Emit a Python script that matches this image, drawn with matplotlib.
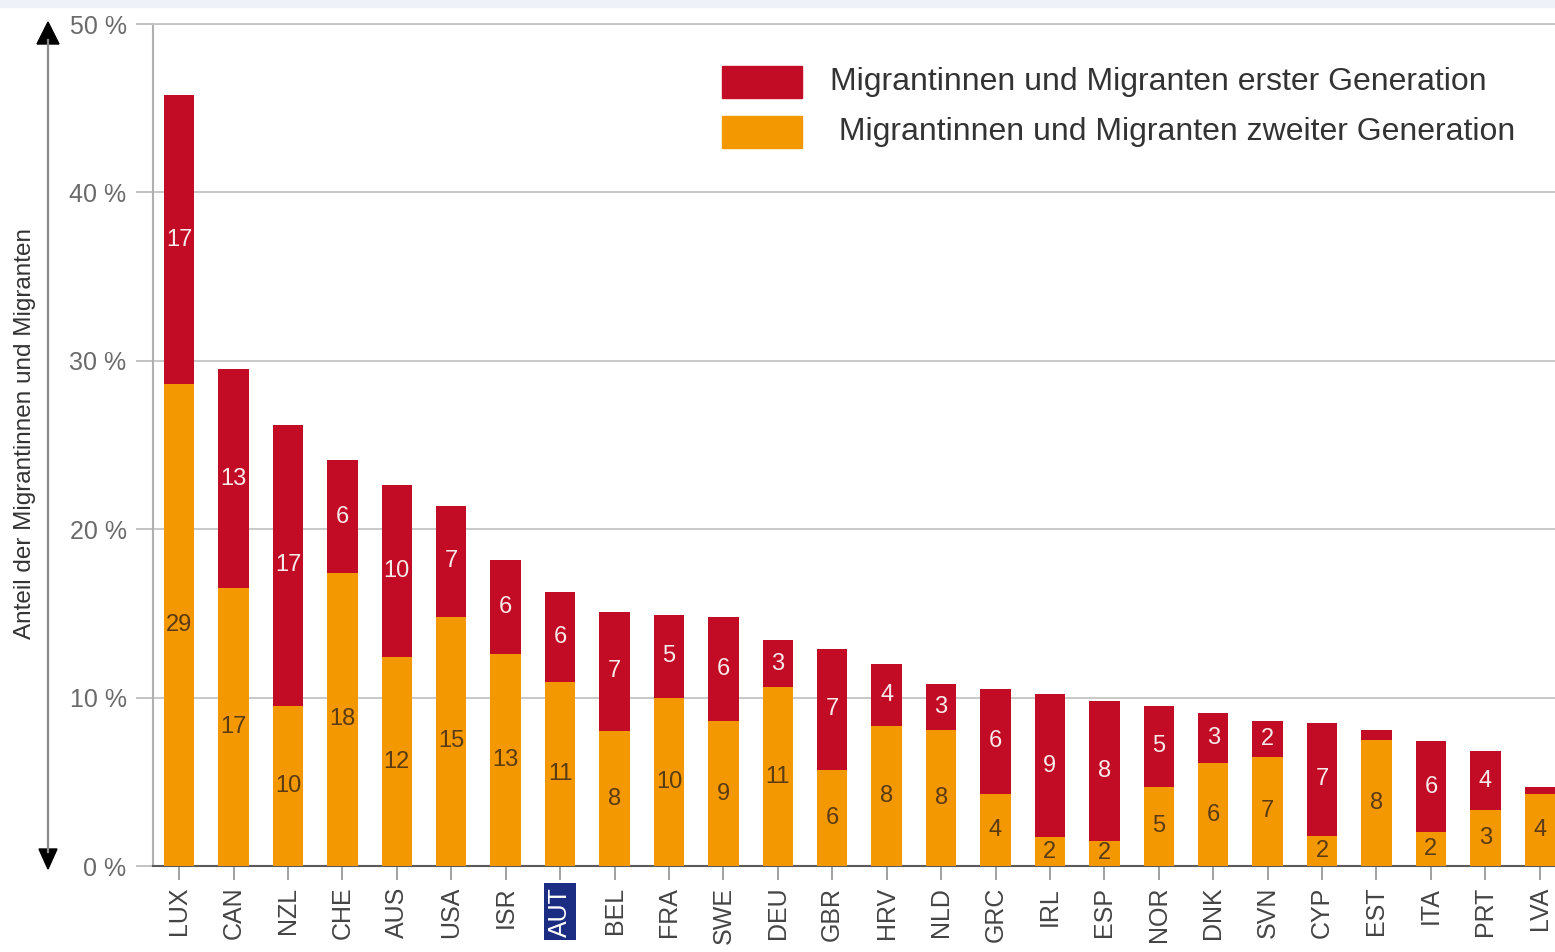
import matplotlib
matplotlib.use("Agg")
import matplotlib.pyplot as plt
from matplotlib.patches import Rectangle, Polygon
from matplotlib.lines import Line2D
import numpy as np

plt.rcParams['font.family'] = ['Liberation Sans', 'DejaVu Sans']

countries = ["LUX", "CAN", "NZL", "CHE", "AUS", "USA", "ISR", "AUT", "BEL", "FRA",
             "SWE", "DEU", "GBR", "HRV", "NLD", "GRC", "IRL", "ESP", "NOR", "DNK",
             "SVN", "CYP", "EST", "ITA", "PRT", "LVA"]
second_gen = [28.6, 16.5, 9.5, 17.4, 12.4, 14.8, 12.6, 10.9, 8.0, 10.0,
              8.6, 10.6, 5.7, 8.3, 8.1, 4.3, 1.7, 1.5, 4.7, 6.1,
              6.5, 1.8, 7.5, 2.0, 3.3, 4.3]
first_gen = [17.2, 13.0, 16.7, 6.7, 10.2, 6.6, 5.6, 5.4, 7.1, 4.9,
             6.2, 2.8, 7.2, 3.7, 2.7, 6.2, 8.5, 8.3, 4.8, 3.0,
             2.1, 6.7, 0.6, 5.4, 3.5, 0.4]
second_labels = ["29", "17", "10", "18", "12", "15", "13", "11", "8", "10",
                 "9", "11", "6", "8", "8", "4", "2", "2", "5", "6",
                 "7", "2", "8", "2", "3", "4"]
first_labels = ["17", "13", "17", "6", "10", "7", "6", "6", "7", "5",
                "6", "3", "7", "4", "3", "6", "9", "8", "5", "3",
                "2", "7", "", "6", "4", ""]
yticks = [0, 10, 20, 30, 40, 50]
ytick_labels = ["0 %", "10 %", "20 %", "30 %", "40 %", "50 %"]
legend_labels = ["Migrantinnen und Migranten erster Generation",
                 " Migrantinnen und Migranten zweiter Generation"]
ylabel = "Anteil der Migrantinnen und Migranten"
highlight = "AUT"

RED = "#c20b25"
ORANGE = "#f39800"

W, H = 1555, 952
fig = plt.figure(figsize=(W / 100, H / 100), dpi=100)
ax = fig.add_axes([153 / W, (H - 866) / H, 1 - 153 / W, (866 - 24) / H])

x = np.arange(len(countries))
sec = np.array(second_gen)
fst = np.array(first_gen)
ax.bar(x, sec, width=0.56, color=ORANGE, zorder=3)
ax.bar(x, fst, width=0.56, bottom=sec, color=RED, zorder=3)

for i in range(len(countries)):
    if second_labels[i]:
        ax.text(x[i], sec[i] / 2, second_labels[i], ha="center", va="center",
                fontsize=17, color="#5a3b12", zorder=4)
    if first_labels[i]:
        ax.text(x[i], sec[i] + fst[i] / 2, first_labels[i], ha="center", va="center",
                fontsize=17, color="#f7eaea", zorder=4)

ax.set_xlim(-0.48, len(countries) - 1 + 0.28)
ax.set_ylim(0, 50)
ax.set_yticks(yticks)
ax.set_yticklabels(ytick_labels, fontsize=18, color="#6a6a6a")
ax.set_xticks(x)
ax.set_xticklabels(countries, rotation=90, fontsize=18, color="#444444")
ax.tick_params(axis="y", length=12, width=1.3, color="#bdbdbd", pad=7)
ax.tick_params(axis="x", length=10, width=1.3, color="#9a9a9a", pad=5)
ax.yaxis.grid(True, color="#c4c4c4", linewidth=1.3, zorder=0)
ax.set_axisbelow(True)
ax.spines["right"].set_visible(False)
ax.spines["top"].set_color("#c4c4c4")
ax.spines["top"].set_linewidth(1.3)
ax.spines["left"].set_color("#b0b0b0")
ax.spines["left"].set_linewidth(1.5)
ax.spines["bottom"].set_color("#5a5a5a")
ax.spines["bottom"].set_linewidth(1.5)

for lbl in ax.get_xticklabels():
    if lbl.get_text() == highlight:
        lbl.set_color("white")
        lbl.set_bbox(dict(boxstyle="square,pad=0.15", fc="#1b2d83", ec="none"))

# legend
leg_colors = [RED, ORANGE]
leg_y = [82, 132]
for c, yy, t in zip(leg_colors, leg_y, legend_labels):
    fig.patches.append(Rectangle((722 / W, 1 - (yy + 16) / H), 80 / W, 32 / H,
                                 transform=fig.transFigure, color=c, figure=fig))
    fig.text(830 / W, 1 - yy / H, t, fontsize=23, color="#333333",
             ha="left", va="center")

# y label and double arrow
fig.text(25 / W, 1 - 434 / H, ylabel, rotation=90, fontsize=17.5,
         color="#333333", ha="center", va="center")
ax_x = 48
fig.lines.append(Line2D([ax_x / W, ax_x / W], [1 - 40 / H, 1 - 852 / H],
                        transform=fig.transFigure, color="#8a8a8a", lw=1.6))
fig.patches.append(Polygon([(ax_x / W, 1 - 22 / H), ((ax_x - 11) / W, 1 - 44 / H),
                            ((ax_x + 11) / W, 1 - 44 / H)], closed=True,
                           transform=fig.transFigure, color="black"))
fig.patches.append(Polygon([(ax_x / W, 1 - 869 / H), ((ax_x - 9) / W, 1 - 849 / H),
                            ((ax_x + 9) / W, 1 - 849 / H)], closed=True,
                           transform=fig.transFigure, color="black"))

# light top band
fig.patches.append(Rectangle((0, 1 - 7 / H), 1, 7 / H, transform=fig.transFigure,
                             color="#eef1f8", figure=fig, zorder=0))

fig.savefig("out.png", dpi=100)
